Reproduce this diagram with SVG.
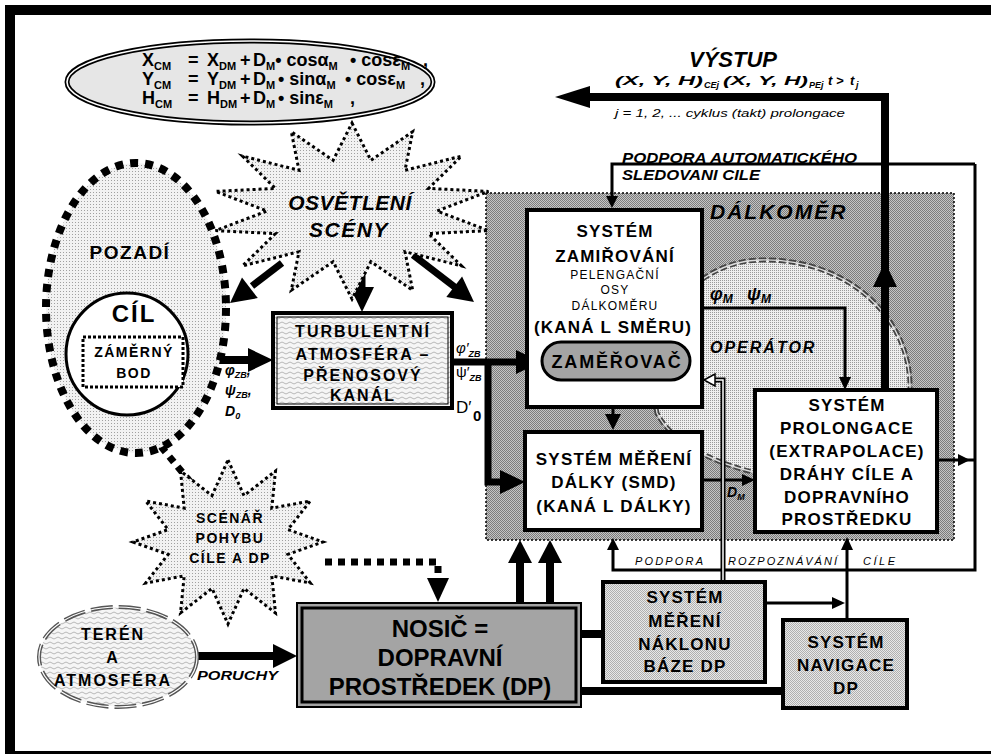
<svg xmlns="http://www.w3.org/2000/svg" width="991" height="754" viewBox="0 0 991 754">
<defs>
<style>
text{font-family:'Liberation Sans',Arial,sans-serif;fill:#000}
.c{text-anchor:middle}
.b17{font-weight:bold;font-size:17px;letter-spacing:1.2px}
.b16{font-weight:bold;font-size:16px;letter-spacing:2px}
.b14{font-weight:bold;font-size:14px;letter-spacing:1.5px}
.n12{font-size:12px;letter-spacing:1.2px}
.bi{font-weight:bold;font-style:italic}
.it{font-style:italic}
.f{font-weight:bold;font-size:18px}
.fs{font-weight:bold;font-size:11px}
.thick{fill:none;stroke:#000;stroke-width:8}
.thin{fill:none;stroke:#000;stroke-width:3}
.dots{fill:none;stroke:#000;stroke-width:7;stroke-dasharray:7 6}
.box{fill:#fff;stroke:#000;stroke-width:4}
.gbox{fill:url(#pMid);stroke:#000;stroke-width:4}
.star{fill:url(#pLight);stroke:#000;stroke-width:3;stroke-dasharray:3 3}
</style>
<pattern id="pDark" width="2" height="2" patternUnits="userSpaceOnUse"><rect width="2" height="2" fill="#c4c4c4"/><rect width="1" height="1" fill="#7c7c7c"/><rect x="1" y="1" width="1" height="1" fill="#7c7c7c"/></pattern>
<pattern id="pLight" width="3" height="3" patternUnits="userSpaceOnUse"><rect width="3" height="3" fill="#f2f2f2"/><rect width="1" height="1" fill="#a0a0a0"/></pattern>
<pattern id="pOper" width="2" height="2" patternUnits="userSpaceOnUse"><rect width="2" height="2" fill="#eeeeee"/><rect width="1" height="1" fill="#999"/></pattern>
<pattern id="pMid" width="2" height="2" patternUnits="userSpaceOnUse"><rect width="2" height="2" fill="#e8e8e8"/><rect width="1" height="1" fill="#b0b0b0"/><rect x="1" y="1" width="1" height="1" fill="#b0b0b0"/></pattern>
<pattern id="pWave" width="8" height="5" patternUnits="userSpaceOnUse"><rect width="8" height="5" fill="#f6f6f6"/><path d="M0 3 Q2 1 4 3 T8 3" fill="none" stroke="#a8a8a8" stroke-width="0.8"/></pattern>
</defs>
<rect width="991" height="754" fill="#fff"/>
<rect x="10" y="10" width="990" height="746" fill="none" stroke="#000" stroke-width="10"/>

<g id="region-dalkomer">
<rect x="486" y="193" width="468" height="347" fill="url(#pDark)" stroke="#000" stroke-width="1.5" stroke-dasharray="2 2"/>
<text x="710" y="219" class="bi" style="font-size:21px;letter-spacing:2px">DÁLKOMĚR</text>
</g>
<g id="region-operator">
<path d="M 657 413 C 640 330 690 262 760 260 C 850 258 912 320 910 390 C 908 450 800 482 753 472 C 710 462 670 440 657 413 Z" fill="url(#pOper)" stroke="#444" stroke-width="5" stroke-dasharray="7 3"/>
<path d="M 657 413 C 640 330 690 262 760 260 C 850 258 912 320 910 390 C 908 450 800 482 753 472 C 710 462 670 440 657 413 Z" fill="none" stroke="#ddd" stroke-width="1.3"/>
<text x="710" y="353" class="bi" style="font-size:16px;letter-spacing:2px">OPERÁTOR</text>
</g>

<g id="formula">
<ellipse cx="250" cy="82" rx="183" ry="41" fill="#e6e6e6" stroke="#000" stroke-width="5"/>
<ellipse cx="250" cy="82" rx="183" ry="41" fill="none" stroke="#fff" stroke-width="1.6"/>
<text class="f" y="66"><tspan x="142">X</tspan><tspan class="fs" dy="4">CM</tspan><tspan x="188" dy="-4">=</tspan><tspan x="207">X</tspan><tspan class="fs" dy="4">DM</tspan><tspan x="240" dy="-4">+</tspan><tspan x="253">D</tspan><tspan class="fs" dy="4">M</tspan><tspan dy="-4">• cosα</tspan><tspan class="fs" dy="4">M</tspan><tspan x="350" dy="-4">• cosε</tspan><tspan class="fs" dy="4">M</tspan><tspan x="423" dy="-4">,</tspan></text>
<text class="f" y="85"><tspan x="142">Y</tspan><tspan class="fs" dy="4">CM</tspan><tspan x="188" dy="-4">=</tspan><tspan x="207">Y</tspan><tspan class="fs" dy="4">DM</tspan><tspan x="240" dy="-4">+</tspan><tspan x="253">D</tspan><tspan class="fs" dy="4">M</tspan><tspan x="278" dy="-4">• sinα</tspan><tspan class="fs" dy="4">M</tspan><tspan x="345" dy="-4">• cosε</tspan><tspan class="fs" dy="4">M</tspan><tspan x="420" dy="-4">,</tspan></text>
<text class="f" y="104"><tspan x="142">H</tspan><tspan class="fs" dy="4">CM</tspan><tspan x="188" dy="-4">=</tspan><tspan x="207">H</tspan><tspan class="fs" dy="4">DM</tspan><tspan x="240" dy="-4">+</tspan><tspan x="253">D</tspan><tspan class="fs" dy="4">M</tspan><tspan x="278" dy="-4">• sinε</tspan><tspan class="fs" dy="4">M</tspan><tspan x="350" dy="-4">,</tspan></text>
</g>

<g id="connectors">
<polyline class="thick" points="885,388 885,97 588,97"/>
<polygon points="555,97 590,86 590,108"/>
<polygon points="885,262 873,287 897,287"/>
<polyline class="thin" points="975,164 612,164 612,198"/>
<polygon points="612,208 606,196 618,196"/>
<polyline class="thin" points="937,460 975,460"/>
<polygon points="970,460 958,454 958,466"/>
<polyline class="thin" points="975,164 975,570 613,570 613,548"/>
<polygon points="613,538 607,550 619,550"/>
<polyline class="thin" points="847,620 847,548"/>
<polygon points="847,537 841,550 853,550"/>
<polyline class="thin" points="765,603 835,603"/>
<polygon points="845,603 832,597 832,609"/>
<polyline class="thin" points="702,308 845,308 845,378"/>
<polygon points="845,390 839,377 851,377"/>
<polyline class="thin" points="702,480 745,480"/>
<polygon points="755,480 742,474 742,486"/>
<line class="thin" x1="613" y1="407" x2="613" y2="416"/>
<polygon points="613,430 605,414 621,414"/>
<polyline points="723,582 723,380 713,380" fill="none" stroke="#000" stroke-width="5"/>
<polyline points="723,582 723,380 713,380" fill="none" stroke="#fff" stroke-width="1.5"/>
<polygon points="704,380 715,374 715,386" fill="#fff" stroke="#000" stroke-width="1.5"/>
<polyline class="thick" points="452,362 518,362" style="stroke-width:7"/>
<polygon points="541,362 516,350 516,374"/>
<polyline class="thick" points="488,362 488,482 502,482" style="stroke-width:7"/>
<polygon points="525,482 500,470 500,494"/>
<line class="thick" x1="183" y1="360" x2="250" y2="360"/>
<polygon points="273,360 248,348 248,372"/>
<line class="thick" x1="282" y1="263" x2="252" y2="286" style="stroke-width:7"/>
<polygon points="230,303 257.8,298.1 242,277.5"/>
<line class="thick" x1="362" y1="266" x2="362" y2="290" style="stroke-width:7"/>
<polygon points="362,312 350,287 374,287"/>
<line class="thick" x1="413" y1="255" x2="456" y2="288" style="stroke-width:7"/>
<polygon points="474,302 446.3,297 462.1,276.4"/>
<line class="dots" x1="207" y1="502" x2="158" y2="443"/>
<polygon points="140,422 161.8,432.5 146.4,445.3"/>
<polyline class="dots" points="325,562 438,562 438,578"/>
<polygon points="438,602 427,578 449,578"/>
<line class="thick" x1="197" y1="656" x2="275" y2="656"/>
<polygon points="297,656 273,644 273,668"/>
<line class="thick" x1="520" y1="603" x2="520" y2="560"/>
<polygon points="520,540 508,563 532,563"/>
<line class="thick" x1="550" y1="603" x2="550" y2="560"/>
<polygon points="550,540 538,563 562,563"/>
<line class="thick" x1="582" y1="634" x2="603" y2="634"/>
<line class="thick" x1="582" y1="691" x2="783" y2="691"/>
<text x="733" y="67" class="bi c" style="font-size:22px">VÝSTUP</text>
<text x="615" y="85" class="bi" style="font-size:13px" textLength="88" lengthAdjust="spacingAndGlyphs">(X, Y, H)</text>
<text x="704" y="88" class="bi" style="font-size:9px">CEj</text>
<text x="723" y="85" class="bi" style="font-size:13px" textLength="85" lengthAdjust="spacingAndGlyphs">(X, Y, H)</text>
<text x="809" y="88" class="bi" style="font-size:9px">PEj</text>
<text x="828" y="85" class="bi" style="font-size:13px">t &gt;</text>
<text x="850" y="85" class="bi" style="font-size:13px">t</text>
<text x="856" y="88" class="bi" style="font-size:9px">j</text>
<text x="615" y="117" class="it" style="font-size:10px" textLength="230" lengthAdjust="spacingAndGlyphs">j  = 1, 2, ... cyklus (takt) prolongace</text>
<text x="622" y="163" class="bi" style="font-size:14px" textLength="235" lengthAdjust="spacingAndGlyphs">PODPORA AUTOMATICKÉHO</text>
<text x="622" y="180" class="bi" style="font-size:14px" textLength="138" lengthAdjust="spacingAndGlyphs">SLEDOVANI CILE</text>
<text x="635" y="565" class="it" style="font-size:11px" textLength="68" lengthAdjust="spacing">PODPORA</text>
<text x="728" y="565" class="it" style="font-size:11px" textLength="109" lengthAdjust="spacing">ROZPOZNÁVÁNÍ</text>
<text x="863" y="565" class="it" style="font-size:11px" textLength="32" lengthAdjust="spacing">CÍLE</text>
<text x="710" y="300" class="bi" style="font-size:18px">φ<tspan style="font-size:12px" dy="3">M</tspan><tspan dy="-3" x="747">ψ</tspan><tspan style="font-size:12px" dy="3">M</tspan></text>
<text x="727" y="497" class="bi" style="font-size:14px">D<tspan style="font-size:9px" dy="3">M</tspan></text>
<text x="456" y="353" class="it" style="font-size:15px">φ′<tspan class="bi" style="font-size:9px" dy="4">ZB</tspan></text>
<text x="456" y="377" style="font-size:15px">ψ′<tspan class="bi" style="font-size:9px" dy="4">ZB</tspan></text>
<text x="456" y="413" style="font-size:17px">D′</text>
<text x="473" y="421" style="font-size:15px;font-weight:bold">0</text>
<text x="225" y="375" class="bi" style="font-size:14px">φ<tspan style="font-size:9px" dy="3">ZB</tspan><tspan dy="-3">,</tspan></text>
<text x="225" y="395" class="bi" style="font-size:14px">ψ<tspan style="font-size:9px" dy="3">ZB</tspan><tspan dy="-3">,</tspan></text>
<text x="225" y="416" class="bi" style="font-size:14px">D<tspan style="font-size:9px" dy="3">0</tspan></text>
<text x="197" y="680" class="bi" style="font-size:13px" textLength="81" lengthAdjust="spacingAndGlyphs">PORUCHY</text>
</g>

<g id="pozadi">
<ellipse cx="136" cy="308" rx="90" ry="145" fill="url(#pLight)" stroke="#000" stroke-width="8" stroke-dasharray="8 7"/>
<text x="130" y="259" class="c" style="font-weight:bold;font-size:19px;letter-spacing:1.5px">POZADÍ</text>
</g>
<g id="cil">
<circle cx="127" cy="354" r="61" fill="#fff" stroke="#000" stroke-width="3"/>
<text x="134" y="322" class="c" style="font-weight:bold;font-size:24px;letter-spacing:2px">CÍL</text>
</g>
<g id="zamerny-bod">
<rect x="83" y="337" width="100" height="50" fill="#fff" stroke="#000" stroke-width="3" stroke-dasharray="3 2"/>
<text x="134" y="357" class="c b14">ZÁMĚRNÝ</text>
<text x="134" y="378" class="c b14">BOD</text>
</g>
<g id="osvetleni">
<polygon class="star" points="352,123 370.9,160.3 412.7,131.7 405,170.3 461.5,156.1 428.6,188.4 488.5,191.4 437,211 488.5,230.6 428.6,233.6 461.5,265.9 405,251.7 412.7,290.3 370.9,261.7 352,299 333.1,261.7 291.3,290.3 299,251.7 242.5,265.9 275.4,233.6 215.5,230.6 267,211 215.5,191.4 275.4,188.4 242.5,156.1 299,170.3 291.3,131.7 333.1,160.3"/>
<text x="350" y="210" class="bi c" style="font-size:21px;letter-spacing:0.5px">OSVĚTLENÍ</text>
<text x="349" y="237" class="bi c" style="font-size:21px;letter-spacing:1.5px">SCÉNY</text>
</g>
<g id="turbulentni">
<rect x="273" y="313" width="179" height="95" fill="url(#pWave)" stroke="#000" stroke-width="4"/>
<rect x="277" y="317" width="171" height="87" fill="none" stroke="#000" stroke-width="1"/>
<text x="363" y="337" class="c b16">TURBULENTNÍ</text>
<text x="363" y="360" class="c b16">ATMOSFÉRA –</text>
<text x="363" y="381" class="c b16">PŘENOSOVÝ</text>
<text x="363" y="401" class="c b16">KANÁL</text>
</g>
<g id="zamirovani">
<rect class="box" x="527" y="210" width="175" height="197"/>
<text x="615" y="237" class="c b17">SYSTÉM</text>
<text x="615" y="262" class="c b17">ZAMIŘOVÁNÍ</text>
<text x="615" y="279" class="c n12">PELENGAČNÍ</text>
<text x="615" y="294" class="c n12">OSY</text>
<text x="615" y="310" class="c n12">DÁLKOMĚRU</text>
<text x="613" y="333" class="c b17">(KANÁ L SMĚRU)</text>
</g>
<g id="zamerovac">
<rect x="542" y="342" width="148" height="38" rx="19" fill="#a4a4a4" stroke="#000" stroke-width="3"/>
<text x="617" y="368" class="c" style="font-weight:bold;font-size:18px;letter-spacing:1.8px">ZAMĚŘOVAČ</text>
</g>
<g id="smd">
<rect class="box" x="525" y="432" width="177" height="98"/>
<text x="614" y="465" class="c b17">SYSTÉM MĚŘENÍ</text>
<text x="614" y="488" class="c b17">DÁLKY (SMD)</text>
<text x="614" y="512" class="c b17">(KANÁ L DÁLKY)</text>
</g>
<g id="prolongace">
<rect class="box" x="755" y="390" width="182" height="142"/>
<text x="847" y="411" class="c b17">SYSTÉM</text>
<text x="847" y="434" class="c b17">PROLONGACE</text>
<text x="847" y="457" class="c b17">(EXTRAPOLACE)</text>
<text x="847" y="480" class="c b17">DRÁHY CÍLE A</text>
<text x="847" y="503" class="c b17">DOPRAVNÍHO</text>
<text x="847" y="525" class="c b17">PROSTŘEDKU</text>
</g>
<g id="scenar">
<polygon class="star" points="228,460 244,495.6 275.5,471 271.8,508.1 310.3,501 287.9,529.6 323,542 287.9,554.4 310.3,583 271.8,575.9 275.5,613 244,588.4 228,624 212,588.4 180.5,613 184.2,575.9 145.7,583 168.1,554.4 133,542 168.1,529.6 145.7,501 184.2,508.1 180.5,471 212,495.6"/>
<text x="230" y="523" class="c b14">SCÉNÁŘ</text>
<text x="230" y="543" class="c b14">POHYBU</text>
<text x="230" y="563" class="c b14">CÍLE A DP</text>
</g>
<g id="teren">
<ellipse cx="118" cy="657" rx="79" ry="50" fill="url(#pWave)" stroke="#555" stroke-width="4" stroke-dasharray="22 6"/>
<ellipse cx="118" cy="657" rx="79" ry="50" fill="none" stroke="#fff" stroke-width="1.2"/>
<text x="113" y="640" class="c b16">TERÉN</text>
<text x="113" y="663" class="c b16">A</text>
<text x="113" y="686" class="c b16">ATMOSFÉRA</text>
</g>
<g id="nosic">
<rect x="297" y="603" width="284" height="104" fill="#a4a4a4" stroke="#000" stroke-width="2"/>
<rect x="302" y="608" width="274" height="94" fill="none" stroke="#000" stroke-width="3"/>
<text x="440" y="637" class="c" style="font-weight:bold;font-size:24px">NOSIČ =</text>
<text x="440" y="666" class="c" style="font-weight:bold;font-size:24px">DOPRAVNÍ</text>
<text x="440" y="695" class="c" style="font-weight:bold;font-size:24px">PROSTŘEDEK (DP)</text>
</g>
<g id="naklon">
<rect class="gbox" x="603" y="582" width="162" height="100"/>
<text x="685" y="603" class="c b17">SYSTÉM</text>
<text x="685" y="627" class="c b17">MĚŘENÍ</text>
<text x="685" y="650" class="c b17">NÁKLONU</text>
<text x="685" y="672" class="c b17">BÁZE DP</text>
</g>
<g id="navigace">
<rect class="gbox" x="783" y="620" width="124" height="88"/>
<text x="846" y="648" class="c b17">SYSTÉM</text>
<text x="846" y="671" class="c b17">NAVIGACE</text>
<text x="846" y="694" class="c b17">DP</text>
</g>
</svg>
